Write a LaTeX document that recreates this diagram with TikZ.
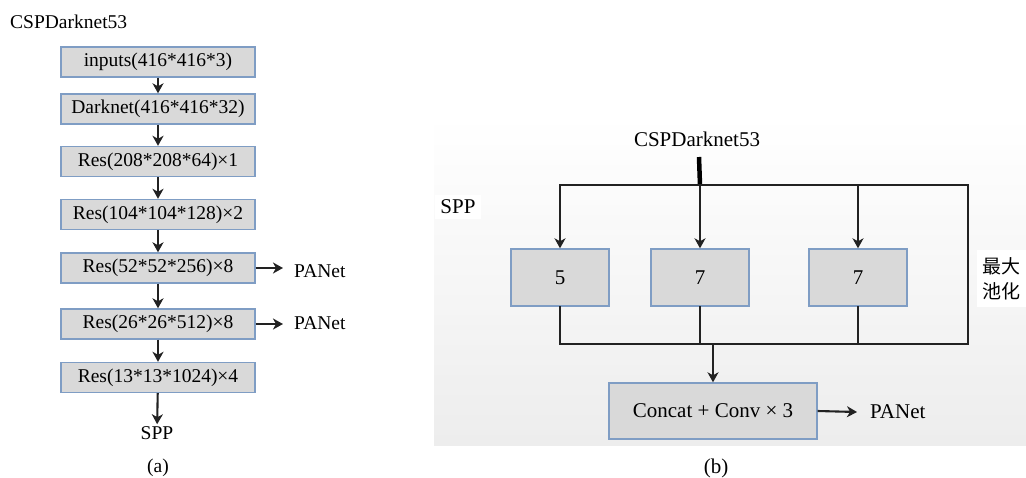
\documentclass[tikz,border=0pt]{standalone}
\usepackage{fontspec}
\setmainfont{Liberation Serif}
\newfontfamily\cjk{Noto Sans CJK SC}
\usetikzlibrary{arrows.meta}
\definecolor{boxfill}{HTML}{D9D9D9}
\definecolor{boxline}{HTML}{7F9DC4}
\definecolor{wire}{HTML}{222222}
\begin{document}
\begin{tikzpicture}[x=1pt,y=-1pt,
  layer/.style={draw=boxline, fill=boxfill, line width=1.4pt, minimum width=194pt,
    minimum height=30pt, inner sep=0pt, font=\fontsize{19.5}{22}\selectfont},
  pool/.style={draw=boxline, fill=boxfill, line width=1.4pt, minimum width=98pt,
    minimum height=57pt, inner sep=0pt, font=\fontsize{21}{24}\selectfont},
  lbla/.style={inner sep=2pt, font=\fontsize{19.5}{22}\selectfont},
  lblb/.style={inner sep=2pt, font=\fontsize{21}{24}\selectfont},
  flow/.style={draw=wire, line width=2.1pt, -{Stealth[length=10pt,width=11pt,inset=3pt]}},
  wireline/.style={draw=wire, line width=2.1pt, line cap=rect, line join=miter},
]
\useasboundingbox (0,0) rectangle (1026,477);
\fill[white] (0,0) rectangle (1026,477);

% ---------- (a) backbone ----------
\node[lbla, anchor=west] (titleA) at (8,22) {CSPDarknet53};
\node[layer] (in) at (158,62)    {inputs(416*416*3)};
\node[layer] (dk) at (158,109)   {Darknet(416*416*32)};
\node[layer] (r1) at (158,161.5) {Res(208*208*64)×1};
\node[layer] (r2) at (158,214.5) {Res(104*104*128)×2};
\node[layer] (r3) at (158,268)   {Res(52*52*256)×8};
\node[layer] (r4) at (158,324)   {Res(26*26*512)×8};
\node[layer] (r5) at (158,377.5) {Res(13*13*1024)×4};
\node[lbla] (sppA) at (157,433) {SPP};
\node[lbla, anchor=west, inner xsep=11pt] (pa1) at (283,271) {PANet};
\node[lbla, anchor=west, inner xsep=11pt] (pa2) at (283,323) {PANet};
\node[lbla] (capA) at (158,468) {(a)};

\draw[flow] (in) -- (dk);
\draw[flow] (dk) -- (r1);
\draw[flow] (r1) -- (r2);
\draw[flow] (r2) -- (r3);
\draw[flow] (r3) -- (r4);
\draw[flow] (r4) -- (r5);
\draw[flow] (r5) -- (sppA);
\draw[flow] (r3.east) -- (r3.east -| pa1.west);
\draw[flow] (r4.east) -- (r4.east -| pa2.west);

% ---------- (b) SPP block ----------
% soft vertical gradient behind the block, in thin bands from top to bottom
\foreach \i in {0,...,31}{
  \pgfmathsetmacro{\tone}{99.8-6.8*\i/31}
  \fill[white!\tone!black] (434,125+10*\i) rectangle (1026,135+10*\i+0.5);
}

\node[lblb] (titleB) at (697,139) {CSPDarknet53};
\node[lblb, fill=white, inner sep=5pt] (sppB) at (458,207) {SPP};
\node[pool] (p5)  at (560,277.5) {5};
\node[pool] (p7a) at (700,277.5) {7};
\node[pool] (p7b) at (858,277.5) {7};
\node[pool, minimum width=208pt, minimum height=56pt] (cc) at (713,411) {Concat + Conv × 3};
\node[lblb, anchor=west, inner xsep=13pt] (paB) at (857,412) {PANet};
\node[fill=white, inner sep=0pt, minimum width=49pt, minimum height=57pt,
  font=\cjk\fontsize{19}{25}\selectfont, align=left] (mp) at (1001.5,278.5) {最大\\池化};
\node[lblb] (capB) at (716,468) {(b)};

\coordinate (stem)  at (699,157);
\coordinate (split) at (700,185);
\coordinate (TL)    at (560,185);
\coordinate (TR)    at (968,185);
\coordinate (BR)    at (968,344);
\coordinate (BL)    at (560,344);
\coordinate (merge) at (713,344);

\draw[draw=black, line width=4.5pt] (stem) -- (split);
\draw[wireline] (TL) -- (TR) -- (BR) -- (BL);
\draw[flow] (TL) -- (p5.north);
\draw[flow] (split) -- (p7a.north);
\draw[flow] (p7b.north |- TL) -- (p7b.north);
\draw[wireline] (p5.south) -- (BL);
\draw[wireline] (p7a.south) -- (p7a.south |- BL);
\draw[wireline] (p7b.south) -- (p7b.south |- BL);
\draw[flow] (merge) -- (cc.north);
\draw[flow] (cc.east) -- (paB.west);
\end{tikzpicture}
\end{document}
